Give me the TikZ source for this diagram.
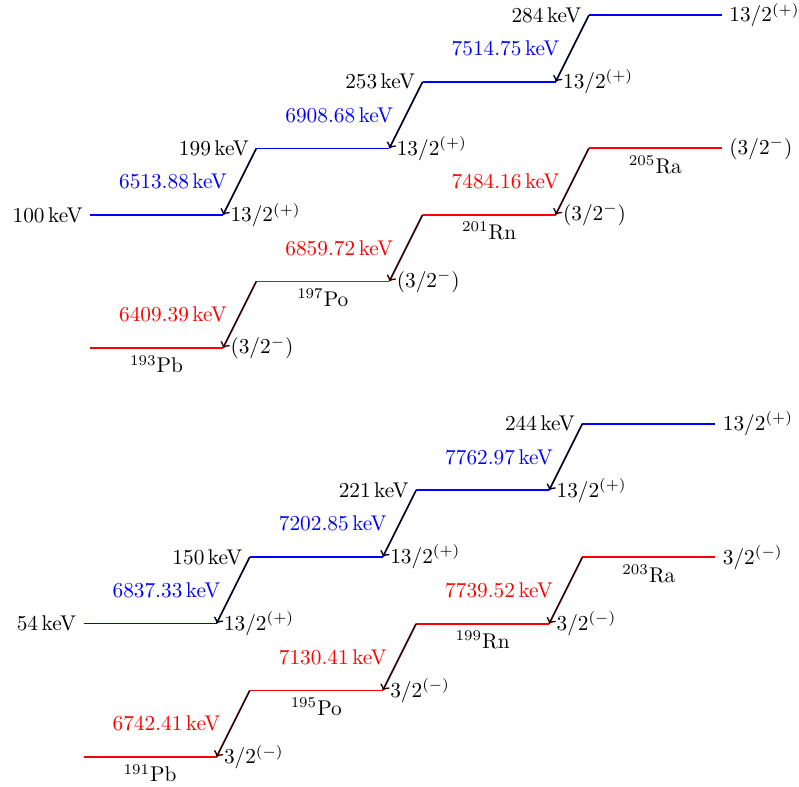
\documentclass[tikz,border=0pt]{standalone}
\begin{document}
\begin{tikzpicture}[x=0.4695pt,y=-0.4695pt,
  blev/.style={draw=blue, line width=0.8pt},
  rlev/.style={draw=red, line width=0.8pt},
  barr/.style={draw=black!85!blue, line width=0.8pt, -to},
  rarr/.style={draw=black!80!red, line width=0.8pt, -to},
  lab/.style={text=black, font=\fontsize{10}{12}\selectfont},
  glab/.style={font=\fontsize{10}{12}\selectfont, left=2.3pt}]
\useasboundingbox (0,0) rectangle (799,786);
% level end points
\foreach \p/\xo/\yb/\yr in {t/90/215/348, b/83.5/623.5/757} {
  \foreach \i in {0,...,3} {
    \coordinate (\p B\i L) at (\xo+\i*166.3, \yb-\i*66.6);
    \coordinate (\p B\i R) at (\xo+\i*166.3+133, \yb-\i*66.6);
    \coordinate (\p R\i L) at (\xo+\i*166.3, \yr-\i*66.6);
    \coordinate (\p R\i R) at (\xo+\i*166.3+133, \yr-\i*66.6);
    \coordinate (\p R\i M) at (\xo+\i*166.3+66.5, \yr-\i*66.6);
  }
}
% levels
\foreach \p in {t,b} {
  \foreach \i in {0,...,3} {
    \draw[blev] (\p B\i L) -- (\p B\i R);
    \draw[rlev] (\p R\i L) -- (\p R\i R);
    \node[lab, right] (\p BS\i) at (\p B\i R) {$13/2^{(+)}$};
  }
}
% red spins
\foreach \i in {0,...,3} {
  \node[lab, right] (tRS\i) at (tR\i R) {$(3/2^{-})$};
  \node[lab, right] (bRS\i) at (bR\i R) {$3/2^{(-)}$};
}
% excitation energies
\foreach \p/\i/\e in {t/0/100, t/1/199, t/2/253, t/3/284, b/0/54, b/1/150, b/2/221, b/3/244}
  \node[lab, left] (\p BE\i) at (\p B\i L) {\e\,keV};
% nucleus names
\foreach \p/\i/\a/\el in {t/0/193/Pb, t/1/197/Po, t/2/201/Rn, t/3/205/Ra, b/0/191/Pb, b/1/195/Po, b/2/199/Rn, b/3/203/Ra}
  \node[lab, below] (\p N\i) at (\p R\i M) {$^{\a}$\el};
% alpha decays, isomers
\foreach \p/\i/\j/\e in {t/0/1/6513.88, t/1/2/6908.68, t/2/3/7514.75, b/0/1/6837.33, b/1/2/7202.85, b/2/3/7762.97}
  \draw[barr] (\p B\j L) -- node[glab, text=blue] (\p BQ\i) {\e\,keV} (\p B\i R);
% alpha decays, ground states
\foreach \p/\i/\j/\e in {t/0/1/6409.39, t/1/2/6859.72, t/2/3/7484.16, b/0/1/6742.41, b/1/2/7130.41, b/2/3/7739.52}
  \draw[rarr] (\p R\j L) -- node[glab, text=red] (\p RQ\i) {\e\,keV} (\p R\i R);
\end{tikzpicture}
\end{document}
